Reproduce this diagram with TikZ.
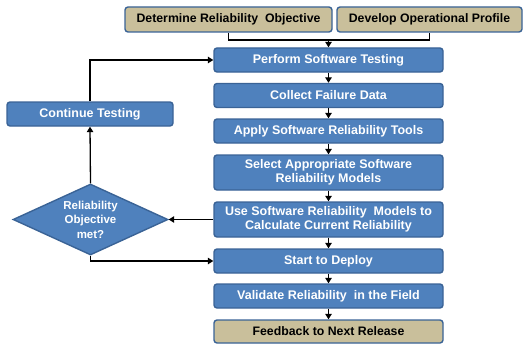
\documentclass[tikz,border=0pt]{standalone}
\usepackage{fontspec}
\setmainfont{Liberation Sans}
\usetikzlibrary{shapes.geometric,arrows.meta}
\definecolor{boxblue}{HTML}{4F81BD}
\definecolor{boxedge}{HTML}{3A6396}
\definecolor{boxtan}{HTML}{C9BF9B}
\begin{document}
\begin{tikzpicture}[x=1pt,y=-1pt,
  bluebox/.style={draw=boxedge,line width=1.4pt,fill=boxblue,rounded corners=3pt,
    text=white,font=\bfseries\fontsize{12.5}{14.5}\selectfont,align=center,inner sep=0pt},
  tanbox/.style={bluebox,fill=boxtan,text=black,font=\bfseries\fontsize{12.3}{14}\selectfont},
  conn/.style={line width=1.3pt,-{Triangle[length=5.5pt,width=6.5pt]}},
  plain/.style={line width=1.3pt}]
\useasboundingbox (0,0) rectangle (524,345);
\node[tanbox,minimum width=207pt,minimum height=25pt] (det) at (228.5,19.5) {Determine Reliability\ \ Objective};
\node[tanbox,minimum width=185pt,minimum height=25pt] (dev) at (429.5,19.5) {Develop Operational Profile};
\node[bluebox,minimum width=229pt,minimum height=24pt] (perf) at (328.5,60) {Perform Software Testing};
\node[bluebox,minimum width=229pt,minimum height=24pt] (coll) at (328.5,95.5) {Collect Failure Data};
\node[bluebox,minimum width=229pt,minimum height=24pt] (appl) at (328.5,131) {Apply Software Reliability Tools};
\node[bluebox,minimum width=229pt,minimum height=35pt] (sel) at (328.5,172.5) {Select Appropriate Software\\Reliability Models};
\node[bluebox,minimum width=229pt,minimum height=35pt] (use) at (328.5,219.5) {Use Software Reliability\ \ Models to\\Calculate Current Reliability};
\node[bluebox,minimum width=229pt,minimum height=24pt] (dep) at (328.5,261) {Start to Deploy};
\node[bluebox,minimum width=229pt,minimum height=24pt] (val) at (328.5,296) {Validate Reliability\ \ in the Field};
\node[tanbox,minimum width=229pt,minimum height=23pt] (fb) at (328.5,331.5) {Feedback to Next Release};
\node[bluebox,minimum width=166pt,minimum height=24pt] (cont) at (90,114) {Continue Testing};
\node[draw=boxedge,line width=1.4pt,fill=boxblue,diamond,aspect=2.2,inner sep=0pt,
  minimum width=155pt,minimum height=71pt,text=white,font=\bfseries\fontsize{11.5}{14.5}\selectfont,align=center] (dia) at (90.5,219.5) {Reliability\\Objective\\met?};
\coordinate (join) at (328.5,40);
\draw[plain] (det.south) |- (join) -| (dev.south);
\draw[conn] (join) -- (perf.north);
\draw[conn] (perf) -- (coll);
\draw[conn] (coll) -- (appl);
\draw[conn] (appl) -- (sel);
\draw[conn] (sel) -- (use);
\draw[conn] (use) -- (dep);
\draw[conn] (dep) -- (val);
\draw[conn] (val) -- (fb);
\draw[conn] (use.west) -- (dia.east);
\draw[conn] (dia.north) -- (cont.south);
\draw[conn] (cont.north) |- (perf.west);
\draw[conn] (dia.south) |- (dep.west);
\end{tikzpicture}
\end{document}
